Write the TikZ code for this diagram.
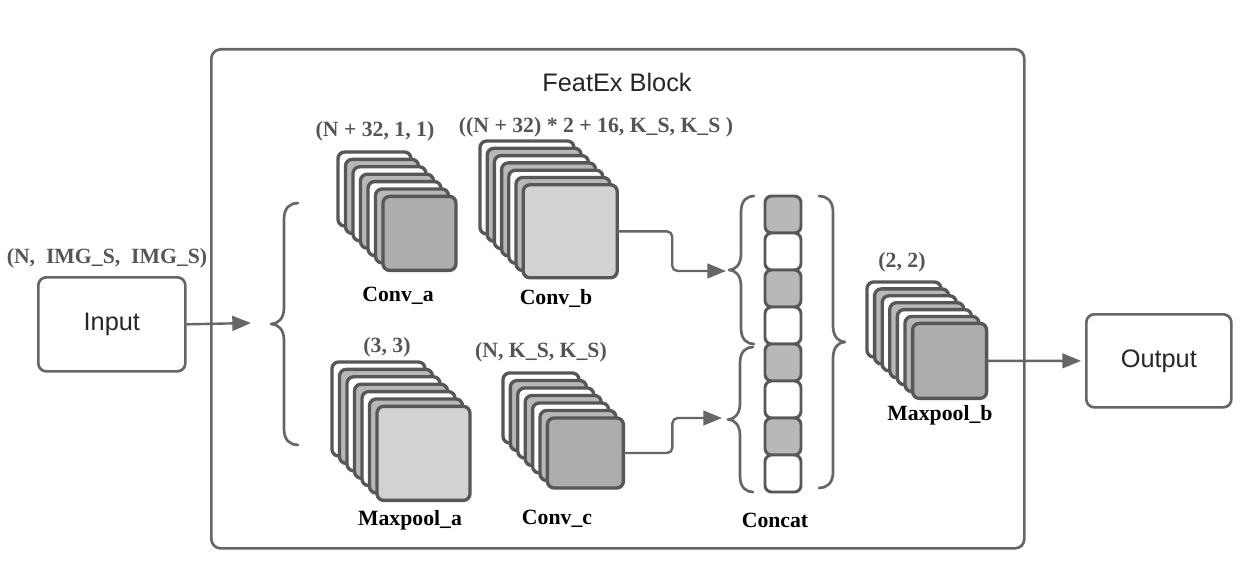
\documentclass[tikz,border=0pt]{standalone}
\usepackage{fontspec}
\setmainfont{Liberation Serif}
\setsansfont{Liberation Sans}
\usetikzlibrary{arrows.meta}
\definecolor{linegray}{HTML}{666666}
\definecolor{carddraw}{HTML}{575757}
\definecolor{cardgray}{HTML}{B8B8B8}
\definecolor{darkfill}{HTML}{ADADAD}
\definecolor{lightfill}{HTML}{D2D2D2}
\definecolor{labelgray}{HTML}{555555}
\tikzset{
  card/.style={draw=carddraw, line width=2.5pt, rounded corners=5pt, inner sep=0pt, outer sep=0pt, anchor=north west},
  cell/.style={draw=carddraw, line width=2.2pt, rounded corners=5pt, inner sep=0pt, outer sep=0pt, anchor=north west,
    minimum width=36*0.75pt, minimum height=37*0.75pt},
  boxnode/.style={draw=linegray, line width=2pt, rounded corners=6pt, inner sep=0pt, anchor=north west},
  sanslabel/.style={font=\sffamily\fontsize{19}{22}\selectfont, text=black!85},
  dimlabel/.style={font=\bfseries\fontsize{16.3}{18}\selectfont, text=labelgray, inner sep=0pt},
  namelabel/.style={font=\bfseries\fontsize{16.3}{18}\selectfont, text=black, inner sep=0pt},
  bracepath/.style={draw=linegray, line width=2pt, line cap=round, line join=round},
  arrowline/.style={draw=linegray, line width=1.8pt, -{Triangle[length=14pt,width=11pt]}},
}
% #1 name, #2 x back, #3 y back, #4 w, #5 h, #6 dx, #7 dy, #8 front fill
\newcommand\cardstack[8]{%
  \foreach \i [evaluate=\i as \xx using #2+\i*#6, evaluate=\i as \yy using #3+\i*#7] in {0,...,5}{%
    \ifodd\i \def\cf{cardgray}\else\def\cf{white}\fi
    \node[card, fill=\cf, minimum width=#4*0.75pt, minimum height=#5*0.75pt] (#1-\i) at (\xx,\yy) {};
  }
  \node[card, fill=#8, minimum width=#4*0.75pt, minimum height=#5*0.75pt] (#1) at ({#2+6*#6},{#3+6*#7}) {};
}
% #1 x vertical, #2 x ends, #3 x tip, #4 y top, #5 y bottom
\newcommand\curlybrace[5]{%
  \path[bracepath] (#2,#4) .. controls ({(#1+#2)/2},#4) and (#1,{#4+4}) .. (#1,{#4+16})
    -- (#1,{(#4+#5)/2-16}) .. controls (#1,{(#4+#5)/2-5}) and ({(#1+#3)/2},{(#4+#5)/2}) .. (#3,{(#4+#5)/2})
    .. controls ({(#1+#3)/2},{(#4+#5)/2}) and (#1,{(#4+#5)/2+5}) .. (#1,{(#4+#5)/2+16})
    -- (#1,{#5-16}) .. controls (#1,{#5-4}) and ({(#1+#2)/2},#5) .. (#2,#5);
}
\begin{document}
\begin{tikzpicture}[x=0.75pt, y=-0.75pt]
\useasboundingbox (0,0) rectangle (1260,588);
% outer block
\node[boxnode, rounded corners=7pt, minimum width=813*0.75pt, minimum height=499*0.75pt] (block) at (210,48) {};
\node[sanslabel] (title) at (617,82) {FeatEx Block};
% input / output
\node[boxnode, minimum width=147*0.75pt, minimum height=94*0.75pt] (input) at (37,276) {};
\node[sanslabel] (inputtext) at (input.center) {Input};
\node[dimlabel] (inputdim) at (107,258) {(N,\ \ IMG\_S,\ \ IMG\_S)};
\node[boxnode, minimum width=145*0.75pt, minimum height=93*0.75pt] (output) at (1085,313) {};
\node[sanslabel] (outputtext) at (output.center) {Output};
% stacks
\cardstack{conva}{338}{152}{73}{74}{7.5}{7.4}{darkfill}
\cardstack{convb}{480}{141}{94}{93}{7.2}{7.3}{lightfill}
\cardstack{mpa}{332}{362}{93}{94}{7.5}{7.4}{lightfill}
\cardstack{convc}{503}{373}{76}{70}{7.4}{7.5}{darkfill}
\cardstack{mpb}{867}{282}{74}{75}{7.6}{6.9}{darkfill}
% labels
\node[dimlabel] (convadim) at (375,131) {(N + 32, 1, 1)};
\node[dimlabel] (convbdim) at (596,127) {((N + 32) * 2 + 16, K\_S, K\_S )};
\node[namelabel] (convaname) at (398,296) {Conv\_a};
\node[namelabel] (convbname) at (556,298) {Conv\_b};
\node[dimlabel] (mpadim) at (387,347) {(3, 3)};
\node[dimlabel] (convcdim) at (541,352) {(N, K\_S, K\_S)};
\node[namelabel] (mpaname) at (410,520) {Maxpool\_a};
\node[namelabel] (convcname) at (557,519) {Conv\_c};
\node[namelabel] (concatname) at (775,520) {Concat};
\node[dimlabel] (mpbdim) at (902,262) {(2, 2)};
\node[namelabel] (mpbname) at (940,415) {Maxpool\_b};
% concat cells
\foreach \k in {0,...,7}{%
  \ifodd\k \def\cf{white}\else\def\cf{cardgray}\fi
  \node[cell, fill=\cf] (cell\k) at (765,{196+\k*37}) {};
}
% braces
\curlybrace{284}{298}{271}{203}{445}
\curlybrace{741}{754}{729}{196}{344}
\curlybrace{740}{753}{728}{347}{492}
\curlybrace{833}{819}{845}{196}{488}
% arrow ends
\coordinate (inend) at (251,323);
\coordinate (cbend) at (726,271);
\coordinate (ccend) at (722,418);
% connectors
\draw[arrowline] (input.east) -- (inend);
\draw[arrowline, rounded corners=4pt] (convb.east) -- ++(55,0) |- (cbend);
\draw[arrowline, rounded corners=4pt] (convc.east) -- ++(49,0) |- (ccend);
\draw[arrowline, shorten >=3pt] (mpb.east) -- (output.west);
\end{tikzpicture}
\end{document}
